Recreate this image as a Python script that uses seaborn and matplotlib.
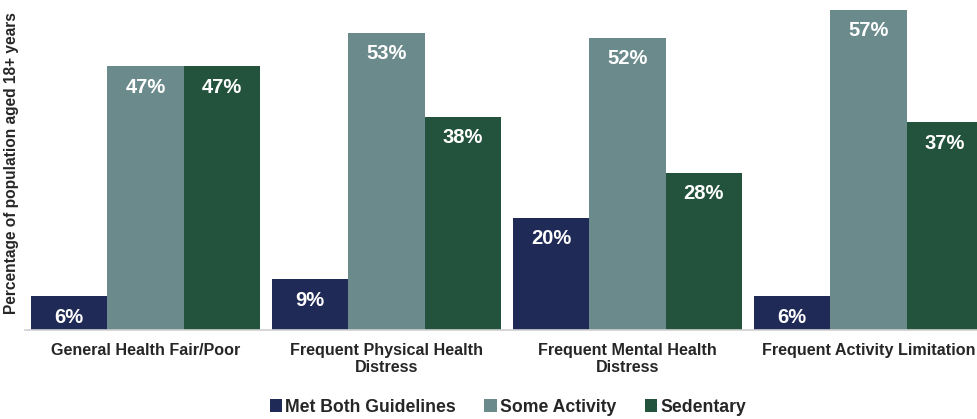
import matplotlib
matplotlib.use("Agg")
import matplotlib.pyplot as plt
import seaborn as sns
import pandas as pd

categories = ["General Health Fair/Poor", "Frequent Physical Health\nDistress",
              "Frequent Mental Health\nDistress", "Frequent Activity Limitation"]
series = ["Met Both Guidelines", "Some Activity", "Sedentary"]
met_both = [6, 9, 20, 6]
some_activity = [47, 53, 52, 57]
sedentary = [47, 38, 28, 37]
colors = ["#1F2A56", "#6B8A8C", "#23533C"]

rows = []
for s, vals in zip(series, [met_both, some_activity, sedentary]):
    for c, v in zip(categories, vals):
        rows.append({"Category": c, "Series": s, "Value": v})
df = pd.DataFrame(rows)

sns.set_style("white")
plt.rcParams["font.family"] = ["Liberation Sans", "DejaVu Sans"]

W, H = 978, 419
fig = plt.figure(figsize=(W / 100, H / 100), dpi=100)
ax = fig.add_axes([25 / W, (H - 330) / H, (978 - 25) / W, 330 / H])

sns.barplot(data=df, x="Category", y="Value", hue="Series", order=categories,
            hue_order=series, palette=colors, width=0.95, linewidth=0,
            saturation=1, ax=ax, legend=True)

ax.set_xlim(-0.5, 3.454)
ax.set_ylim(0, 58.8)
ax.set_yticks([])
ax.set_xlabel("")
ax.set_ylabel("Percentage of population aged 18+ years", fontsize=11.2,
              fontweight="bold")
ax.yaxis.set_label_coords(-6 / (978 - 25), 0.506)
for side in ["top", "right", "left"]:
    ax.spines[side].set_visible(False)
ax.spines["bottom"].set_color("#D0D0D0")
ax.spines["bottom"].set_linewidth(1.2)
ax.tick_params(axis="x", length=0, pad=9)
for lbl in ax.get_xticklabels():
    lbl.set_fontsize(11.6)
    lbl.set_fontweight("bold")
    lbl.set_linespacing(1.2)

for cont in ax.containers:
    for p in cont:
        h = p.get_height()
        ax.annotate(f"{h:.0f}%", (p.get_x() + p.get_width() / 2, h),
                    xytext=(0, -15), textcoords="offset points",
                    ha="center", va="center", color="white",
                    fontsize=14.5, fontweight="bold")

handles, labels = ax.get_legend_handles_labels()
ax.legend(handles, labels, loc="center", bbox_to_anchor=(508 / W, (H - 407) / H),
          bbox_transform=fig.transFigure, ncol=3, frameon=False,
          handlelength=0.7, handleheight=0.7, handletextpad=0.2,
          columnspacing=1.6, prop={"weight": "bold", "size": 12.7})

fig.savefig("out.png", dpi=100)
